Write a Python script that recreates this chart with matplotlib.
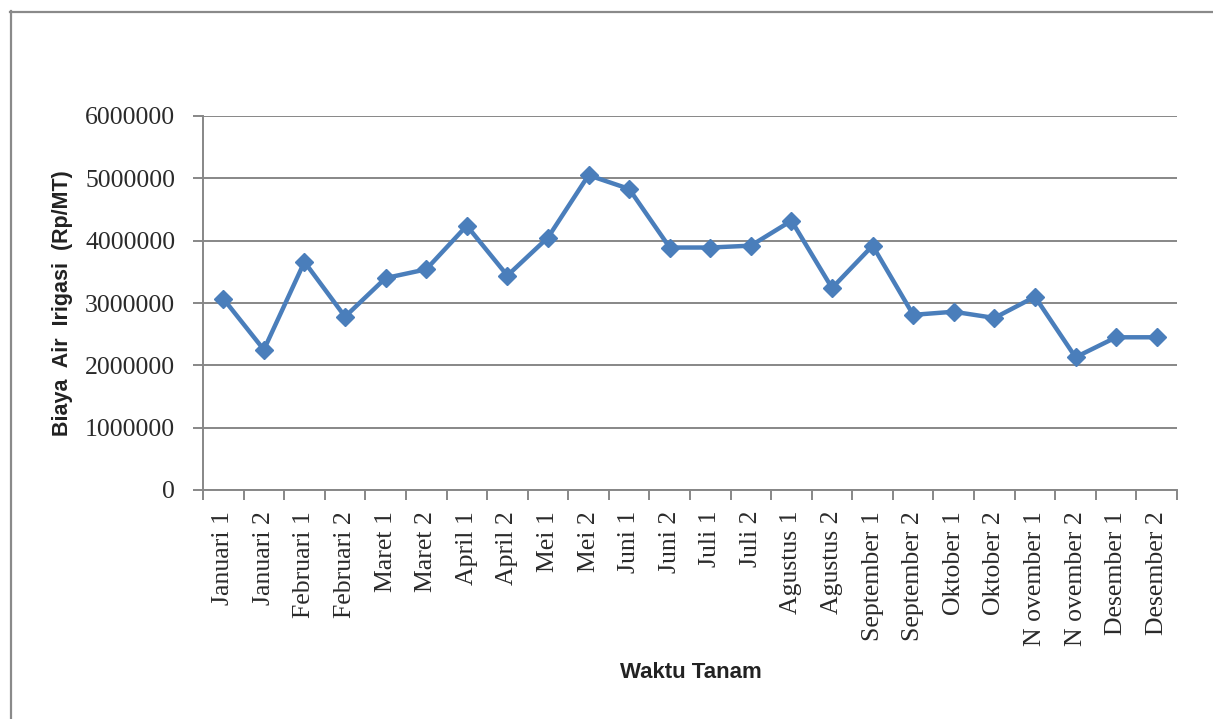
import matplotlib
matplotlib.use("Agg")
import matplotlib.pyplot as plt
from matplotlib.lines import Line2D
from matplotlib.ticker import FixedLocator

categories = ["Januari 1", "Januari 2", "Februari 1", "Februari 2", "Maret 1", "Maret 2",
              "April 1", "April 2", "Mei 1", "Mei 2", "Juni 1", "Juni 2",
              "Juli 1", "Juli 2", "Agustus 1", "Agustus 2", "September 1", "September 2",
              "Oktober 1", "Oktober 2", "N ovember 1", "N ovember 2", "Desember 1", "Desember 2"]
values = [3070000, 2250000, 3660000, 2780000, 3400000, 3540000,
          4240000, 3440000, 4050000, 5050000, 4830000, 3890000,
          3890000, 3920000, 4320000, 3240000, 3920000, 2810000,
          2860000, 2760000, 3100000, 2130000, 2450000, 2450000]
yticks = [0, 1000000, 2000000, 3000000, 4000000, 5000000, 6000000]

W, H = 1213, 719
fig = plt.figure(figsize=(W / 100, H / 100), dpi=100)
ax = fig.add_axes([203 / W, 1 - 490 / H, (1177 - 203) / W, (490 - 116) / H])

grey = "#878787"
x = list(range(len(categories)))
ax.plot(x, values, color="#4A7EBB", linewidth=3.2, marker="D", markersize=9,
        markerfacecolor="#4A7EBB", markeredgecolor="#4A7EBB", zorder=3)

ax.set_xlim(-0.5, len(categories) - 0.5)
ax.set_ylim(0, 6000000)
ax.set_yticks(yticks)
ax.set_yticklabels([str(v) for v in yticks])
ax.yaxis.grid(True, color=grey, linewidth=1.4)
ax.set_axisbelow(True)

ax.set_xticks(x)
ax.set_xticklabels(categories, rotation=90, va="top", ha="center")
ax.xaxis.set_minor_locator(FixedLocator([i - 0.5 for i in range(len(categories) + 1)]))
ax.tick_params(axis="x", which="major", length=0, pad=15)
ax.tick_params(axis="x", which="minor", length=7, width=1.4, color=grey, direction="out")
ax.tick_params(axis="y", which="major", length=7, width=1.4, color=grey, direction="out", pad=13)

for lab in ax.get_xticklabels() + ax.get_yticklabels():
    lab.set_fontfamily("Liberation Serif")
    lab.set_fontsize(18.5)
    lab.set_color("#2a2a2a")

for s in ["top", "right"]:
    ax.spines[s].set_visible(False)
for s in ["left", "bottom"]:
    ax.spines[s].set_color(grey)
    ax.spines[s].set_linewidth(1.4)

fig.text(62.5 / W, 1 - 303 / H, "Biaya  Air  Irigasi  (Rp/MT)", rotation=90,
         ha="center", va="center", fontsize=15.5, fontweight="bold",
         fontfamily="Liberation Sans", color="#222222")
fig.text(691 / W, 1 - 672 / H, "Waktu Tanam", ha="center", va="center",
         fontsize=16, fontweight="bold", fontfamily="Liberation Sans", color="#222222")

# outer chart frame (left and top edges visible)
fig.add_artist(Line2D([10.5 / W, 10.5 / W], [0, 1 - 11 / H], transform=fig.transFigure,
                      color="#8a8a8a", linewidth=1.6))
fig.add_artist(Line2D([10 / W, 1], [1 - 11.5 / H, 1 - 11.5 / H], transform=fig.transFigure,
                      color="#8a8a8a", linewidth=1.6))

fig.savefig("out.png", dpi=100)
